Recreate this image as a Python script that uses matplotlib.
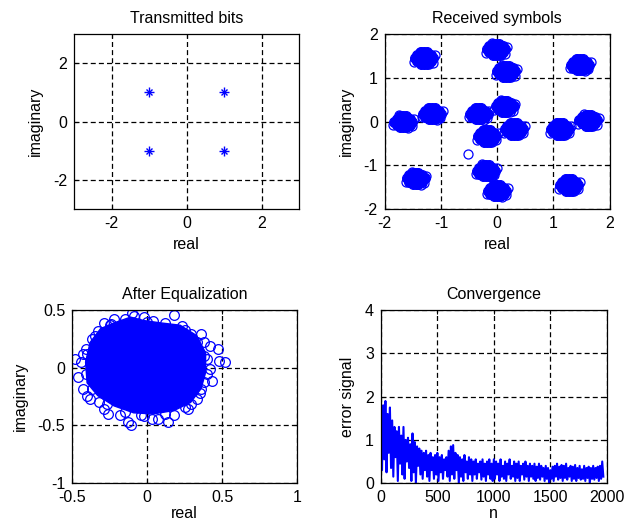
import matplotlib
matplotlib.use('Agg')
import matplotlib.pyplot as plt
import matplotlib.ticker as ticker
import numpy as np

plt.rcParams['font.family'] = ['Liberation Sans', 'DejaVu Sans']
plt.rcParams['font.size'] = 11.5
plt.rcParams['axes.unicode_minus'] = False

BLUE = '#0000ff'

# Transmitted QPSK symbols
tx_real = [-1, 1, -1, 1]
tx_imag = [1, 1, -1, -1]

# Received symbols: centres of the 16 clusters
rx_real = [-1.30, -0.02, 0.16, 1.47, -1.67, -1.16, -0.33, 0.13,
           0.30, -0.18, 1.12, 1.62, -1.45, -0.20, 0.00, 1.28]
rx_imag = [1.45, 1.65, 1.15, 1.30, 0.00, 0.18, 0.18, 0.35,
           -0.17, -0.33, -0.17, 0.03, -1.30, -1.12, -1.58, -1.45]
# spread of the points around each centre (dense core + a few loose ones)
core_dx = [0.00, 0.05, -0.05, 0.10, -0.10, 0.16, -0.16, 0.00, 0.00, 0.06, -0.06,
           0.06, -0.06, 0.12, -0.12, 0.12, -0.12, 0.00, 0.00, 0.05, -0.05, 0.05, -0.05]
core_dy = [0.00, 0.00, 0.00, 0.00, 0.00, 0.00, 0.00, 0.06, -0.06, 0.09, 0.09,
           -0.09, -0.09, 0.07, 0.07, -0.07, -0.07, 0.13, -0.13, 0.13, 0.13, -0.13, -0.13]
edge_dx = [0.19, -0.18, 0.09, -0.07, 0.15]
edge_dy = [0.06, -0.08, -0.14, 0.14, -0.10]
outlier_real = [-0.52]
outlier_imag = [-0.74]

# After equalization: outline of the dense cloud and the stray points round it
eq_outline_real = [-0.41, -0.38, -0.31, -0.22, -0.11, -0.02, 0.09, 0.22, 0.33, 0.39,
                   0.39, 0.36, 0.29, 0.18, 0.04, -0.09, -0.22, -0.33, -0.40]
eq_outline_imag = [0.05, 0.22, 0.34, 0.39, 0.44, 0.41, 0.39, 0.37, 0.28, 0.13,
                   -0.04, -0.18, -0.30, -0.37, -0.40, -0.39, -0.33, -0.24, -0.13]
eq_stray_real = [-0.48, -0.43, -0.44, -0.46, -0.43, -0.40, -0.33, -0.29, -0.22, -0.10,
                 -0.09, 0.18, 0.23, 0.29, 0.36, 0.42, 0.47, 0.48, 0.52, 0.42,
                 0.43, 0.36, 0.33, 0.29, 0.14, 0.18, 0.07, 0.03, -0.11, -0.13,
                 -0.18, -0.26, -0.32, -0.38, -0.02, 0.04, -0.24, -0.37, -0.41, 0.38,
                 0.40, 0.38, 0.27, -0.04, -0.29,
                 -0.35, -0.25, -0.15, 0.00, 0.12, 0.25, 0.33, 0.38, 0.40, 0.35,
                 0.25, 0.12, -0.02, -0.15, -0.27, -0.37, -0.41, -0.40]
eq_stray_imag = [0.08, 0.12, 0.05, -0.08, -0.18, -0.24, 0.32, 0.39, 0.42, 0.48,
                 0.45, 0.46, 0.36, 0.29, 0.29, 0.19, 0.16, 0.06, 0.05, -0.01,
                 -0.11, -0.18, -0.27, -0.31, -0.47, -0.41, -0.44, -0.44, -0.50, -0.47,
                 -0.41, -0.40, -0.30, -0.27, 0.44, 0.41, 0.38, 0.25, 0.16, 0.22,
                 0.08, -0.12, -0.36, -0.41, -0.36,
                 0.28, 0.37, 0.42, 0.40, 0.39, 0.33, 0.22, 0.10, -0.05, -0.22,
                 -0.34, -0.40, -0.42, -0.38, -0.31, -0.18, -0.05, 0.12]

# Convergence: error signal, one value every 10 samples
err = [1.95, 0.30, 1.80, 0.55, 1.90, 0.25, 1.60, 0.70, 1.75, 0.35,
       1.45, 0.15, 1.30, 0.60, 1.20, 0.05, 1.30, 0.45, 1.10, 0.20,
       1.30, 0.10, 1.00, 0.50, 1.05, 0.35, 0.90, 0.05, 1.15, 0.25,
       0.95, 0.00, 0.85, 0.40, 0.80, 0.20, 0.75, 0.10, 0.70, 0.30,
       0.75, 0.15, 0.65, 0.05, 0.70, 0.30, 0.60, 0.10, 0.65, 0.20,
       0.70, 0.05, 0.60, 0.25, 0.65, 0.10, 0.55, 0.30, 0.60, 0.15,
       0.75, 0.05, 0.85, 0.20, 0.88, 0.10, 0.70, 0.30, 0.65, 0.00,
       0.60, 0.15, 0.55, 0.05, 0.65, 0.25, 0.50, 0.10, 0.60, 0.20,
       0.55, 0.05, 0.50, 0.20, 0.55, 0.10, 0.45, 0.25, 0.50, 0.08,
       0.55, 0.15, 0.45, 0.05, 0.50, 0.20, 0.55, 0.10, 0.45, 0.05,
       0.55, 0.10, 0.50, 0.20, 0.45, 0.05, 0.55, 0.15, 0.40, 0.10,
       0.50, 0.05, 0.45, 0.20, 0.55, 0.10, 0.40, 0.15, 0.50, 0.05,
       0.45, 0.12, 0.50, 0.05, 0.40, 0.20, 0.45, 0.08, 0.50, 0.15,
       0.40, 0.05, 0.45, 0.15, 0.40, 0.10, 0.45, 0.05, 0.38, 0.12,
       0.45, 0.08, 0.40, 0.15, 0.35, 0.05, 0.40, 0.10, 0.35, 0.00,
       0.30, 0.10, 0.38, 0.05, 0.40, 0.15, 0.45, 0.08, 0.38, 0.12,
       0.42, 0.05, 0.40, 0.12, 0.45, 0.08, 0.35, 0.15, 0.40, 0.05,
       0.38, 0.10, 0.42, 0.05, 0.35, 0.12, 0.40, 0.08, 0.32, 0.10,
       0.40, 0.05, 0.35, 0.12, 0.38, 0.00, 0.35, 0.10, 0.40, 0.08,
       0.35, 0.12, 0.38, 0.05, 0.40, 0.10, 0.50, 0.15]
err_n = np.arange(len(err)) * 10


def style(ax):
    ax.grid(True, color='k', linestyle=(0, (4, 2.5)), linewidth=0.9)
    ax.set_axisbelow(True)
    ax.tick_params(direction='in', length=3, top=True, right=True, pad=5, labelsize=11.5)
    for s in ax.spines.values():
        s.set_linewidth(0.9)
    ax.xaxis.set_major_formatter(ticker.FormatStrFormatter('%g'))
    ax.yaxis.set_major_formatter(ticker.FormatStrFormatter('%g'))


fig = plt.figure(figsize=(6.38, 5.24), dpi=100)
ax1 = fig.add_axes([0.116, 0.601, 0.3527, 0.334])
ax2 = fig.add_axes([0.603, 0.601, 0.3527, 0.334])
ax3 = fig.add_axes([0.113, 0.078, 0.3527, 0.330])
ax4 = fig.add_axes([0.597, 0.078, 0.354, 0.330])

# Transmitted bits
ax1.plot(tx_real, tx_imag, '+', color=BLUE, markersize=7, markeredgewidth=1)
ax1.plot(tx_real, tx_imag, 'x', color=BLUE, markersize=5, markeredgewidth=1)
ax1.set_xlim(-3, 3)
ax1.set_ylim(-3, 3)
ax1.set_xticks([-2, 0, 2])
ax1.set_yticks([-2, 0, 2])
style(ax1)
ax1.set_title('Transmitted bits', fontsize=11.5, pad=8)
ax1.set_xlabel('real')
ax1.set_ylabel('imaginary', labelpad=7)

# Received symbols
cr = np.array(rx_real)[:, None]
ci = np.array(rx_imag)[:, None]
ax2.plot((cr + np.array(edge_dx)).ravel(), (ci + np.array(edge_dy)).ravel(), 'o',
         mfc='none', mec=BLUE, markersize=6.5, markeredgewidth=0.9)
ax2.plot((cr + np.array(core_dx)).ravel(), (ci + np.array(core_dy)).ravel(), 'o',
         color=BLUE, markersize=7, markeredgewidth=0.9)
ax2.plot(outlier_real, outlier_imag, 'o', mfc='none', mec=BLUE, markersize=6.5,
         markeredgewidth=0.9)
ax2.set_xlim(-2, 2)
ax2.set_ylim(-2, 2)
ax2.set_xticks([-2, -1, 0, 1, 2])
ax2.set_yticks([-2, -1, 0, 1, 2])
style(ax2)
ax2.set_title('Received symbols', fontsize=11.5, pad=8)
ax2.set_xlabel('real')
ax2.set_ylabel('imaginary', labelpad=7)

# After equalization
ax3.fill(eq_outline_real, eq_outline_imag, color=BLUE, linewidth=1)
ax3.plot(eq_stray_real, eq_stray_imag, 'o', mfc='none', mec=BLUE, markersize=7,
         markeredgewidth=0.9)
ax3.set_xlim(-0.5, 1)
ax3.set_ylim(-1, 0.5)
ax3.set_xticks([-0.5, 0, 0.5, 1])
ax3.set_yticks([-1, -0.5, 0, 0.5])
style(ax3)
ax3.set_title('After Equalization', fontsize=11.5, pad=8)
ax3.set_xlabel('real', labelpad=1)
ax3.set_ylabel('imaginary', labelpad=7)

# Convergence
ax4.plot(err_n, err, color=BLUE, linewidth=1.5)
ax4.set_xlim(0, 2000)
ax4.set_ylim(0, 4)
ax4.set_xticks([0, 500, 1000, 1500, 2000])
ax4.set_yticks([0, 1, 2, 3, 4])
style(ax4)
ax4.set_title('Convergence', fontsize=11.5, pad=8)
ax4.set_xlabel('n', labelpad=1)
ax4.set_ylabel('error signal', labelpad=7)

fig.savefig('out.png', dpi=100)
